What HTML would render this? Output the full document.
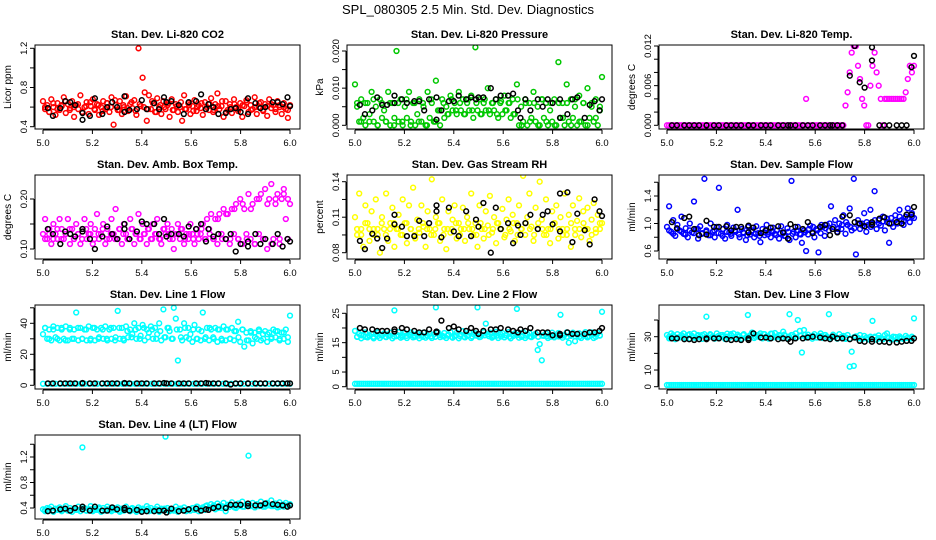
<!DOCTYPE html>
<html><head><meta charset="utf-8"><title>SPL_080305 Diagnostics</title>
<style>
html,body{margin:0;padding:0;background:#fff;}
svg{display:block;font-family:"Liberation Sans",Arial,sans-serif;}
</style></head>
<body>
<svg id="chart" width="936" height="540" viewBox="0 0 936 540" xmlns="http://www.w3.org/2000/svg">
<text x="468" y="14" text-anchor="middle" font-size="13">SPL_080305  2.5 Min. Std. Dev. Diagnostics</text>
</svg>
<script>
// ---- data ----
const xTicks = [5.0, 5.2, 5.4, 5.6, 5.8, 6.0];
const blackT = [5.02,5.04,5.07,5.09,5.11,5.13,5.16,5.16,5.19,5.21,5.24,5.26,5.28,5.3,5.33,5.33,5.35,5.38,5.4,5.42,5.45,5.47,5.49,5.5,5.52,5.55,5.57,5.59,5.62,5.64,5.66,5.67,5.69,5.71,5.74,5.76,5.78,5.8,5.83,5.83,5.86,5.88,5.9,5.93,5.95,5.97,5.99,6.0];

const co2Color = [0.66,0.58,0.62,0.55,0.68,0.6,0.52,0.64,0.57,0.61,0.7,0.54,0.63,0.59,0.66,0.5,0.62,0.58,0.72,0.55,0.6,0.65,0.53,0.61,0.68,0.57,0.63,0.52,0.6,0.66,0.58,0.64,0.55,0.7,0.42,0.62,0.57,0.66,0.53,0.6,0.71,0.56,0.63,0.59,0.67,0.52,1.2,0.61,0.9,0.75,0.46,0.72,0.58,0.64,0.55,0.69,0.6,0.53,0.66,0.58,0.62,0.5,0.68,0.57,0.63,0.55,0.6,0.46,0.72,0.58,0.64,0.53,0.61,0.67,0.56,0.62,0.59,0.52,0.65,0.6,0.57,0.69,0.55,0.63,0.74,0.58,0.61,0.5,0.66,0.57,0.63,0.54,0.68,0.6,0.56,0.64,0.5,0.61,0.67,0.55,0.62,0.58,0.7,0.53,0.6,0.65,0.57,0.63,0.51,0.68,0.59,0.62,0.55,0.66,0.6,0.53,0.64,0.58,0.49,0.62];
const co2Band = [0.6,0.55,0.64,0.58,0.62,0.66,0.57,0.6,0.63,0.55,0.61,0.65,0.58,0.62,0.56,0.64,0.6,0.67,0.57,0.62,0.59,0.65,0.56,0.63,0.6,0.58,0.66,0.55,0.62,0.6,0.64,0.57,0.61,0.65,0.58,0.62,0.56,0.6,0.64,0.58,0.63,0.57,0.61,0.66,0.55,0.6,0.63,0.58,0.62,0.65,0.57,0.6,0.64,0.56,0.61,0.63,0.58,0.62,0.6,0.57];
const co2Black = [0.59,0.51,0.59,0.66,0.65,0.62,0.47,0.54,0.51,0.69,0.53,0.6,0.65,0.6,0.71,0.55,0.57,0.58,0.67,0.58,0.64,0.58,0.7,0.65,0.66,0.62,0.53,0.65,0.66,0.73,0.58,0.63,0.6,0.53,0.54,0.58,0.59,0.55,0.69,0.53,0.64,0.59,0.6,0.65,0.65,0.63,0.7,0.61];

const presColor = [0.011,0.005,0.001,0.007,0.002,0.0,0.006,0.003,0.009,0.001,0.005,0.0,0.007,0.002,0.004,0.001,0.009,0.0,0.006,0.002,0.02,0.001,0.007,0.0,0.005,0.002,0.009,0.001,0.006,0.0,0.003,0.007,0.001,0.005,0.0,0.009,0.002,0.006,0.001,0.012,0.004,0.0,0.007,0.002,0.005,0.003,0.008,0.004,0.006,0.003,0.009,0.004,0.007,0.003,0.006,0.004,0.008,0.002,0.021,0.004,0.007,0.003,0.006,0.004,0.01,0.003,0.006,0.004,0.007,0.002,0.006,0.003,0.008,0.004,0.006,0.002,0.007,0.003,0.011,0.0,0.005,0.001,0.007,0.0,0.006,0.002,0.009,0.001,0.005,0.0,0.007,0.002,0.006,0.0,0.004,0.001,0.007,0.0,0.017,0.002,0.006,0.0,0.011,0.001,0.007,0.002,0.005,0.0,0.008,0.001,0.006,0.0,0.01,0.002,0.005,0.001,0.007,0.0,0.004,0.013];
const presBand = [0.006,0.001,0.006,0.001,0.007,0.0,0.006,0.001,0.006,0.0,0.006,0.001,0.007,0.0,0.006,0.001,0.006,0.0,0.007,0.001,0.004,0.006,0.003,0.007,0.004,0.006,0.003,0.007,0.004,0.006,0.003,0.007,0.004,0.006,0.003,0.0065,0.004,0.006,0.003,0.007,0.0,0.006,0.001,0.006,0.0,0.007,0.001,0.006,0.0,0.006,0.002,0.006,0.0,0.007,0.001,0.006,0.0,0.006,0.002,0.005];
const presBlack = [0.0055,0.003,0.004,0.0075,0.0055,0.0055,0.006,0.008,0.007,0.006,0.0065,0.0065,0.004,0.007,0.0075,0.0015,0.004,0.0065,0.0065,0.008,0.007,0.0075,0.007,0.0075,0.0075,0.01,0.007,0.008,0.008,0.0085,0.004,0.002,0.007,0.004,0.007,0.005,0.007,0.006,0.007,0.002,0.003,0.007,0.0075,0.002,0.0055,0.0065,0.004,0.007];

const tempColor = [0,0,0,0,0,0,0,0,0,0,0,0,0,0,0,0,0,0,0,0,0,0,0,0,0,0,0,0,0,0,0,0,0,0,0,0,0,0,0,0,0,0,0,0,0,0,0,0,0,0,0,0,0,0,0,0,0,0,0,0,0,0,0,0,0,0,0,0.004,0,0,0,0,0,0,0,0,0,0,0,0,0,0,0,0,0,0,0.003,0.005,0.008,0.011,0.012,0.012,0.009,0.007,0.004,0.003,0.0,0.0,0.006,0.009,0.011,0.008,0.006,0.004,0.0,0.004,0.004,0.004,0.004,0.004,0.004,0.004,0.004,0.004,0.004,0.005,0.007,0.009,0.008,0.009];
const tempBlack = [0,0,0,0,0,0,0,0,0,0,0,0,0,0,0,0,0,0,0,0,0,0,0,0,0,0,0,0,0,0,0,0,0,0,0.0075,0.012,0.0065,0.0057,0.0118,0.0098,0,0,0,0,0,0,0.0088,0.0105];

const ambColor = [0.13,0.16,0.12,0.14,0.11,0.15,0.13,0.12,0.16,0.14,0.12,0.13,0.16,0.11,0.14,0.12,0.15,0.13,0.11,0.14,0.16,0.12,0.13,0.15,0.11,0.14,0.17,0.12,0.13,0.15,0.11,0.14,0.12,0.16,0.13,0.18,0.12,0.14,0.11,0.15,0.13,0.12,0.16,0.14,0.11,0.13,0.17,0.12,0.15,0.13,0.11,0.14,0.12,0.15,0.13,0.16,0.12,0.11,0.14,0.13,0.15,0.12,0.14,0.1,0.13,0.15,0.12,0.14,0.11,0.13,0.12,0.15,0.13,0.11,0.14,0.12,0.13,0.15,0.12,0.16,0.14,0.17,0.12,0.16,0.11,0.17,0.13,0.18,0.12,0.17,0.11,0.18,0.13,0.19,0.12,0.2,0.11,0.18,0.13,0.21,0.12,0.19,0.11,0.2,0.13,0.21,0.12,0.22,0.1,0.2,0.23,0.12,0.19,0.21,0.11,0.2,0.22,0.16,0.2,0.19];
const ambBand = [0.12,0.13,0.12,0.14,0.12,0.13,0.14,0.12,0.13,0.12,0.14,0.13,0.12,0.13,0.14,0.12,0.13,0.12,0.14,0.13,0.12,0.14,0.13,0.12,0.13,0.14,0.12,0.13,0.12,0.14,0.13,0.12,0.13,0.14,0.12,0.13,0.12,0.13,0.14,0.12,0.13,0.12,0.16,0.12,0.17,0.12,0.18,0.12,0.19,0.12,0.18,0.11,0.2,0.12,0.19,0.11,0.2,0.12,0.21,0.12];
const ambBlack = [0.14,0.13,0.11,0.135,0.13,0.125,0.135,0.14,0.12,0.1,0.125,0.145,0.13,0.12,0.15,0.14,0.12,0.135,0.155,0.15,0.15,0.13,0.16,0.125,0.13,0.13,0.125,0.145,0.14,0.15,0.115,0.14,0.125,0.13,0.12,0.13,0.095,0.11,0.105,0.115,0.13,0.11,0.12,0.11,0.13,0.105,0.12,0.115];

const rhColor = [0.11,0.095,0.13,0.1,0.085,0.12,0.105,0.09,0.115,0.1,0.125,0.095,0.08,0.11,0.1,0.13,0.09,0.105,0.118,0.085,0.1,0.112,0.095,0.125,0.105,0.088,0.12,0.1,0.135,0.092,0.108,0.097,0.12,0.102,0.085,0.115,0.1,0.142,0.095,0.11,0.105,0.09,0.125,0.1,0.083,0.115,0.097,0.108,0.12,0.092,0.105,0.1,0.118,0.09,0.11,0.1,0.13,0.095,0.105,0.085,0.12,0.1,0.092,0.115,0.103,0.128,0.097,0.11,0.088,0.105,0.1,0.117,0.093,0.108,0.125,0.098,0.112,0.09,0.105,0.12,0.1,0.145,0.095,0.11,0.13,0.102,0.09,0.118,0.1,0.14,0.108,0.095,0.125,0.1,0.088,0.115,0.105,0.12,0.092,0.11,0.1,0.13,0.095,0.112,0.085,0.12,0.1,0.107,0.126,0.093,0.115,0.1,0.118,0.09,0.108,0.122,0.097,0.112,0.1,0.105];
const rhBand = [0.1,0.095,0.105,0.1,0.095,0.1,0.105,0.095,0.1,0.105,0.1,0.095,0.105,0.1,0.095,0.1,0.105,0.1,0.095,0.1,0.105,0.095,0.1,0.1,0.105,0.095,0.1,0.105,0.1,0.095,0.105,0.1,0.095,0.1,0.105,0.1,0.095,0.1,0.105,0.095,0.1,0.105,0.1,0.095,0.105,0.1,0.095,0.1,0.105,0.1,0.095,0.1,0.105,0.095,0.1,0.105,0.1,0.095,0.1,0.105];
const rhBlack = [0.09,0.083,0.096,0.092,0.084,0.092,0.112,0.104,0.102,0.094,0.094,0.107,0.094,0.105,0.115,0.12,0.093,0.118,0.098,0.094,0.115,0.094,0.108,0.102,0.122,0.08,0.118,0.1,0.105,0.088,0.103,0.095,0.105,0.112,0.1,0.112,0.115,0.104,0.098,0.13,0.131,0.089,0.113,0.099,0.087,0.125,0.115,0.111];

const flowColor = [0.95,1.25,0.88,1.05,0.82,0.98,0.9,1.1,0.85,0.93,0.8,1.0,0.87,1.32,0.92,0.78,0.96,0.86,1.65,0.9,0.83,1.0,0.88,0.8,0.95,1.52,0.85,0.92,0.78,0.98,0.87,0.82,0.94,0.88,1.2,0.8,0.92,0.86,0.76,0.95,0.84,0.9,0.8,0.96,0.86,0.73,0.92,0.83,0.98,0.88,0.8,0.94,0.85,0.9,0.78,0.96,0.86,0.82,0.93,0.76,1.62,0.88,0.8,0.95,0.85,0.72,0.9,0.6,0.84,0.97,0.88,0.8,0.92,0.58,0.86,0.95,0.82,0.98,0.9,1.25,0.95,1.05,0.88,1.0,0.92,1.12,0.85,0.98,1.22,0.9,1.65,0.55,1.05,0.92,1.0,1.15,0.88,0.98,1.2,1.0,1.47,0.92,1.05,0.97,1.1,0.9,1.02,0.72,1.08,0.95,1.12,1.0,1.2,1.05,0.98,1.1,1.22,1.02,1.15,1.08];
const flowBand = [0.9,0.85,0.92,0.88,0.84,0.9,0.86,0.92,0.85,0.88,0.83,0.9,0.86,0.82,0.88,0.85,0.9,0.84,0.87,0.83,0.88,0.85,0.82,0.87,0.84,0.89,0.83,0.86,0.82,0.88,0.85,0.9,0.84,0.87,0.92,0.95,0.9,0.98,0.93,1.0,0.95,0.92,0.98,1.02,0.95,0.93,1.0,0.97,1.02,0.95,1.05,1.0,1.03,1.07,1.0,1.05,1.1,1.03,1.08,1.1];
const flowBlack = [1.02,0.93,1.08,1.1,0.92,0.83,1.04,0.84,0.95,0.95,0.96,0.9,0.95,0.95,0.97,0.87,0.94,0.86,0.9,0.94,0.96,0.87,0.78,0.99,0.95,0.92,1.02,0.86,0.95,0.98,0.83,0.92,0.87,1.1,1.12,1.02,1.0,0.96,1.02,0.98,1.07,1.09,1.0,1.02,1.0,1.13,1.13,1.24];

const line1Color = [33,37,30,36,29,38,31,37,29,36,30,38,29,37,30,36,47,29,37,30,36,29,38,30,37,29,36,31,37,30,38,29,36,30,37,31,48,30,37,29,38,31,36,33,40,30,37,32,39,29,36,34,38,30,37,33,40,29,49,31,37,35,30,50,43,16,36,29,40,31,37,33,28,39,30,36,29,47,30,37,29,36,31,37,28,36,30,38,29,36,30,37,29,35,41,28,36,25,34,29,35,27,34,30,36,29,33,35,28,34,30,36,31,35,29,34,30,36,28,45];
const line1Band = [37,30,36,30,37,29,36,30,37,30,36,29,37,30,36,30,37,29,37,30,35,31,36,30,37,31,36,30,35,31,37,30,36,31,37,30,36,30,35,31,37,30,36,29,36,30,35,31,36,29,34,31,35,30,33,31,35,30,34,31];
const line1Low = [1,1,1,1,1,1,1,1,1,1,1,1,1,1,1,1,1,1,1,1,1,1,1,1,1,1,1,1,1,1,1,1,1,1,1,1,1,1,1,1,1,1,1,1,1,1,1,1,1,1,1,1,1,1,1,1,1,1,1,1];
const line1Black = [1.2,1.2,1.2,1.2,1.2,1.2,1.5,1.2,1.2,1.2,1.2,1.2,1.2,1.2,1.5,1.2,1.2,1.2,1.2,1.2,1.2,1.2,1.5,1.2,1.2,1.2,1.2,1.2,1.2,1.2,1.5,1.2,1.2,1.2,1.2,0.5,1.2,1.2,1.2,1.2,1.2,1.2,1.2,1.2,1.2,1.2,1.2,1.2];

const line2Color = [19,17,18,16.5,17.5,18.5,16.8,17.2,18,16.5,17.8,18.5,16.6,17.4,18.2,16.9,17.5,18.4,16.5,26,17.2,18.6,16.7,17.5,18.3,16.6,17.9,18.5,16.8,17.3,18.2,16.5,17.6,18.4,16.7,17.2,18.1,16.6,17.8,27,18.5,16.9,17.4,18.3,16.6,17.8,18.6,16.7,17.2,18.4,16.5,17.7,18.9,16.8,17.3,18.5,16.6,17.9,18.2,27,16.9,17.5,18.6,21.5,17.8,18.4,16.7,17.3,18.7,16.6,17.9,18.3,16.8,17.5,18.6,16.5,17.7,18.2,26.5,16.7,17.4,18.5,16.6,17.8,18.3,16.9,17.4,18.1,12.5,14.5,9,17.3,18.2,16.6,17.5,18.4,16.8,17.2,18.3,24.5,16.7,17.6,18.5,15,17.3,18.4,15.5,17.7,18.2,16.6,17.4,18.6,16.8,17.2,18.5,16.6,17.9,18.3,17.5,25.5];
const line2Band = [17,17.5,17,17.5,17,17.2,17.6,17,17.4,17.1,17.5,17,17.3,17.6,17,17.4,17,17.5,17.2,17,17.6,17.1,17.4,17,17.5,17.2,17,17.5,17.1,17.4,17,17.5,17.2,17,17.4,17.1,17.5,17,17.3,17.6,17,17.4,17.1,17.5,17,17.4,17.2,17,17.5,17.1,17.4,17,17.5,17.2,17,17.4,17.1,17.5,17,17.4];
const line2Low = [1,1,1,1,1,1,1,1,1,1,1,1,1,1,1,1,1,1,1,1,1,1,1,1,1,1,1,1,1,1,1,1,1,1,1,1,1,1,1,1,1,1,1,1,1,1,1,1,1,1,1,1,1,1,1,1,1,1,1,1,1,1,1,1,1,1,1,1,1,1,1,1,1,1,1,1,1,1,1,1,1,1,1,1,1,1,1,1,1,1,1,1,1,1,1,1,1,1,1,1,1,1,1,1,1,1,1,1,1,1,1,1,1,1,1,1,1,1,1,1];
const line2Black = [20,19.5,19.5,19,19,19,18.8,19.5,20,19.5,19,18.5,18.5,19.5,18.5,18.8,22.5,20,20.5,19.5,19,20,19,18,19,19.5,19.5,20,19.5,19,18.5,19.5,19,20,18.5,18.5,18.5,17.5,17.5,18,18.5,18,18,18,18.5,18.5,19,20];

const line3Color = [31,29,32,30,28.5,31.5,29.5,30.5,32,29,31,28.8,30.5,32,29.2,31,30,28.7,31.5,42,29.5,31,30.2,28.8,32,29.5,31,30,28.6,31.8,29.3,30.7,32,29,31.2,30,28.8,31.5,29.5,43,30.8,32.5,29.2,31,30,32,29,31.5,30.2,28.8,31.8,29.5,32.2,30,31,29.2,33,30.5,29,43.5,31,30,32,40,33.5,20.5,34,29.5,31.2,30,28.8,31.5,29.5,30.6,32,29.2,31,30,43.5,29.5,31.2,30,28.8,31.5,29.8,30.5,28.7,31,12,21,12.5,30.2,29,31,28.5,30.5,29.2,28.4,30,39.5,29.5,28.2,30.8,29,28.5,31,32,29.5,28.2,30,29.8,28.5,30.2,29,28.6,30.5,29.2,28.8,30,41];
const line3Band = [30,31,29.5,31,30,31.5,29.5,30.5,31,30,31.5,29.5,30.5,31,30,31.5,29.8,30.5,31,30,31.5,30,30.8,31.5,30.2,31.8,30,30.5,31.2,30,31,29.5,30.5,31,29.8,30.5,29.5,30.5,31,29.5,30.2,29,30,29.5,28.8,29.8,29.2,28.8,29.5,29,30,29.2,28.6,29.5,29,29.8,29.2,28.8,29.5,29];
const line3Low = [1,1,1,1,1,1,1,1,1,1,1,1,1,1,1,1,1,1,1,1,1,1,1,1,1,1,1,1,1,1,1,1,1,1,1,1,1,1,1,1,1,1,1,1,1,1,1,1,1,1,1,1,1,1,1,1,1,1,1,1,1,1,1,1,1,1,1,1,1,1,1,1,1,1,1,1,1,1,1,1,1,1,1,1,1,1,1,1,1,1,1,1,1,1,1,1,1,1,1,1,1,1,1,1,1,1,1,1,1,1,1,1,1,1,1,1,1,1,1,1];
const line3Black = [29,29,28.5,28.5,28,28.5,28.5,29,29,29,28.5,28,28.5,28,29,28,32,29.5,29.5,29,28.5,29,28.5,27,29,29,29.5,30,29.5,29,28.5,30,29,29,28.5,29.5,27.5,27,27,28.5,27,27,26.5,26.5,27,27.5,27.5,29];

const line4Color = [0.38,0.35,0.4,0.36,0.42,0.34,0.39,0.37,0.41,0.35,0.38,0.43,0.36,0.4,0.34,0.39,0.37,0.42,0.35,1.35,0.4,0.36,0.38,0.43,0.35,0.39,0.37,0.41,0.34,0.4,0.36,0.42,0.38,0.35,0.4,0.37,0.41,0.34,0.39,0.36,0.42,0.37,0.35,0.4,0.38,0.34,0.41,0.36,0.39,0.37,0.43,0.35,0.4,0.36,0.38,0.42,0.34,0.39,0.37,1.52,0.4,0.35,0.38,0.36,0.42,0.34,0.39,0.37,0.41,0.35,0.38,0.36,0.4,0.37,0.42,0.35,0.39,0.41,0.37,0.44,0.4,0.46,0.42,0.38,0.47,0.43,0.4,0.48,0.35,0.45,0.42,0.49,0.44,0.4,0.47,0.43,0.5,0.42,0.46,1.22,0.44,0.48,0.41,0.46,0.43,0.5,0.45,0.42,0.48,0.44,0.52,0.43,0.47,0.41,0.49,0.45,0.42,0.48,0.44,0.46];
const line4Band = [0.37,0.39,0.36,0.38,0.37,0.39,0.36,0.38,0.37,0.39,0.36,0.38,0.37,0.39,0.36,0.38,0.37,0.39,0.36,0.38,0.37,0.39,0.36,0.38,0.37,0.39,0.36,0.38,0.37,0.39,0.36,0.38,0.37,0.39,0.36,0.38,0.4,0.42,0.39,0.43,0.41,0.44,0.4,0.43,0.42,0.45,0.41,0.44,0.42,0.45,0.43,0.41,0.44,0.42,0.45,0.43,0.44,0.42,0.45,0.43];
const line4Black = [0.35,0.36,0.38,0.39,0.36,0.4,0.42,0.38,0.36,0.42,0.36,0.36,0.41,0.38,0.4,0.37,0.36,0.37,0.34,0.35,0.35,0.36,0.36,0.33,0.39,0.35,0.36,0.38,0.39,0.36,0.38,0.37,0.4,0.42,0.4,0.45,0.45,0.45,0.47,0.43,0.44,0.44,0.47,0.46,0.45,0.44,0.42,0.44];

// ---- drawing ----
const NS = 'http://www.w3.org/2000/svg';
const svg = document.getElementById('chart');
function sampleTimes(n, off){ const a=[]; for(let i=0;i<n;i++) a.push(5.0 + (i+off)/(n-1+2*off)); return a; }
function mk(tag, attrs, parent){ const e=document.createElementNS(NS,tag); for(const k in attrs) e.setAttribute(k,attrs[k]); (parent||svg).appendChild(e); return e; }

const panels = [
 {key:'co2', title:'Stan. Dev. Li-820 CO2', ylab:'Licor ppm', col:0,row:0, color:'#ff0000', series:[co2Color,co2Band], black:co2Black, ya:[0.4,126.7,1.2,48.3], ticks:[0.4,0.6,0.8,1.0,1.2], labels:[[0.4,'0.4'],[0.8,'0.8'],[1.2,'1.2']]},
 {key:'pressure', title:'Stan. Dev. Li-820 Pressure', ylab:'kPa', col:1,row:0, color:'#00c800', series:[presColor,presBand], black:presBlack, ya:[0,125.3,0.02,51], ticks:[0,0.005,0.01,0.015,0.02], labels:[[0,'0.000'],[0.01,'0.010'],[0.02,'0.020']]},
 {key:'temp', title:'Stan. Dev. Li-820 Temp.', ylab:'degrees C', col:2,row:0, color:'#ff00ff', series:[tempColor], black:tempBlack, ya:[0,125.3,0.012,46], ticks:[0,0.002,0.004,0.006,0.008,0.01,0.012], labels:[[0,'0.000'],[0.006,'0.006'],[0.012,'0.012']]},
 {key:'ambbox', title:'Stan. Dev. Amb. Box Temp.', ylab:'degrees C', col:0,row:1, color:'#ff00ff', series:[ambColor,ambBand], black:ambBlack, ya:[0.10,249,0.20,199], ticks:[0.10,0.15,0.20], labels:[[0.10,'0.10'],[0.20,'0.20']]},
 {key:'rh', title:'Stan. Dev. Gas Stream RH', ylab:'percent', col:1,row:1, color:'#ffff00', series:[rhColor,rhBand], black:rhBlack, ya:[0.08,252.7,0.14,181.7], ticks:[0.08,0.095,0.11,0.125,0.14], labels:[[0.08,'0.08'],[0.11,'0.11'],[0.14,'0.14']]},
 {key:'sampleflow', title:'Stan. Dev. Sample Flow', ylab:'ml/min', col:2,row:1, color:'#0000ff', series:[flowColor,flowBand], black:flowBlack, ya:[0.6,251,1.4,196], ticks:[0.6,0.8,1.0,1.2,1.4,1.6], labels:[[0.6,'0.6'],[1.0,'1.0'],[1.4,'1.4']]},
 {key:'line1', title:'Stan. Dev. Line 1 Flow', ylab:'ml/min', col:0,row:2, color:'#00ffff', series:[line1Color,line1Band,line1Low], black:line1Black, ya:[0,385.3,40,323.3], ticks:[0,10,20,30,40,50], labels:[[0,'0'],[20,'20'],[40,'40']]},
 {key:'line2', title:'Stan. Dev. Line 2 Flow', ylab:'ml/min', col:1,row:2, color:'#00ffff', series:[line2Color,line2Band,line2Low], black:line2Black, ya:[0,386.7,25,313.3], ticks:[0,5,10,15,20,25], labels:[[0,'0'],[5,'5'],[15,'15'],[25,'25']]},
 {key:'line3', title:'Stan. Dev. Line 3 Flow', ylab:'ml/min', col:2,row:2, color:'#00ffff', series:[line3Color,line3Band,line3Low], black:line3Black, ya:[0,386.7,30,336.7], ticks:[0,10,20,30,40], labels:[[0,'0'],[10,'10'],[30,'30']]},
 {key:'line4', title:'Stan. Dev. Line 4 (LT) Flow', ylab:'ml/min', col:0,row:3, color:'#00ffff', series:[line4Color,line4Band], black:line4Black, ya:[0.4,508,1.2,457], ticks:[0.4,0.6,0.8,1.0,1.2,1.4], labels:[[0.4,'0.4'],[0.8,'0.8'],[1.2,'1.2']]}
];

panels.forEach(p => {
  const bx = 35 + p.col*312, bw = 265;
  const by = 45 + p.row*130, bh = 84;
  const g = mk('g', {});
  
  
  const xs = v => 43 + p.col*312 + (v-5.0)*247;
  const ys = v => p.ya[1] + (v-p.ya[0])*(p.ya[3]-p.ya[1])/(p.ya[2]-p.ya[0]);

  const clip = 'clip-' + p.key;
  const cp = mk('clipPath', {id:clip}, g);
  mk('rect', {x:bx, y:by, width:bw, height:bh}, cp);
  const pts = mk('g', {'clip-path':'url(#'+clip+')'}, g);
  
  

  p.series.forEach((arr, si) => {
    const ts = sampleTimes(arr.length, si===1 ? 0.5 : 0);
    arr.forEach((v,i) => {
      const c = mk('circle', {cx:xs(ts[i]).toFixed(1), cy:ys(v).toFixed(1), r:2.4, fill:'none', stroke:p.color, 'stroke-width':1.5}, pts);
      
      
    });
  });
  const nb = Math.min(blackT.length, p.black.length);
  for (let i=0;i<nb;i++){
    const c = mk('circle', {cx:xs(blackT[i]).toFixed(1), cy:ys(p.black[i]).toFixed(1), r:2.4, fill:'none', stroke:'#000', 'stroke-width':1.5}, pts);
    
    
  }

  const box = mk('rect', {x:bx, y:by, width:bw, height:bh, fill:'none', stroke:'#000', 'stroke-width':1}, g);
  
  

  const t = mk('text', {x:bx+bw/2, y:by-7, 'text-anchor':'middle', 'font-size':11, 'font-weight':'bold'}, g);
  t.textContent = p.title;
  
  

  const xa = mk('g', {}, g);
  
  
  mk('line', {x1:xs(xTicks[0]), x2:xs(xTicks[xTicks.length-1]), y1:by+bh+1, y2:by+bh+1, stroke:'#000'}, xa);
  xTicks.forEach(v => {
    mk('line', {x1:xs(v), x2:xs(v), y1:by+bh+1, y2:by+bh+5, stroke:'#000'}, xa);
    const l = mk('text', {x:xs(v), y:by+bh+17, 'text-anchor':'middle', 'font-size':9.5}, xa);
    l.textContent = v.toFixed(1);
    
    
  });

  const ya = mk('g', {}, g);
  
  
  mk('line', {x1:bx-1, x2:bx-1, y1:ys(p.ticks[0]), y2:ys(p.ticks[p.ticks.length-1]), stroke:'#000'}, ya);
  p.ticks.forEach(v => {
    mk('line', {x1:bx-5, x2:bx-1, y1:ys(v), y2:ys(v), stroke:'#000'}, ya);
  });
  p.labels.forEach(([v,s]) => {
    const lx = bx-8, ly = ys(v);
    const l = mk('text', {x:lx, y:ly, 'text-anchor':'middle', 'font-size':9.5, transform:'rotate(-90 '+lx+' '+ly+')'}, ya);
    l.textContent = s;
    
    
  });
  const yl = bx-24, ylY = by+bh/2;
  const yt = mk('text', {x:yl, y:ylY, 'text-anchor':'middle', 'font-size':10, transform:'rotate(-90 '+yl+' '+ylY+')'}, g);
  yt.textContent = p.ylab;
  
  
});
</script>
</body></html>
